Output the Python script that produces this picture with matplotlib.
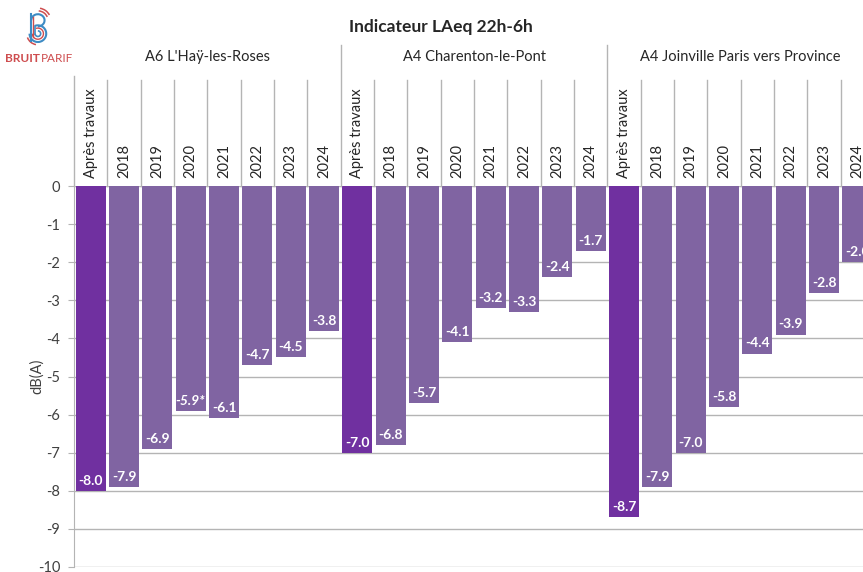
import numpy as np
import matplotlib
matplotlib.use('Agg')
import matplotlib.pyplot as plt
from matplotlib.patches import Arc
from matplotlib.transforms import blended_transform_factory

plt.rcParams['font.family'] = ['Lato', 'DejaVu Sans']
plt.rcParams['axes.unicode_minus'] = False

# data
groups = ["A6 L'Haÿ-les-Roses", "A4 Charenton-le-Pont", "A4 Joinville Paris vers Province"]
periods = ['Après travaux', '2018', '2019', '2020', '2021', '2022', '2023', '2024']
haylesroses = [-8.0, -7.9, -6.9, -5.9, -6.1, -4.7, -4.5, -3.8]
charenton = [-7.0, -6.8, -5.7, -4.1, -3.2, -3.3, -2.4, -1.7]
joinville = [-8.7, -7.9, -7.0, -5.8, -4.4, -3.9, -2.8, -2.0]
series = [haylesroses, charenton, joinville]
# 2020 value at L'Haÿ-les-Roses is flagged with an asterisk
flagged = {(0, 3)}

dark = '#7030A0'
light = '#8064A2'
grid_c = '#B4B4B4'
txt_c = '#404040'

fig = plt.figure(figsize=(8.63, 5.72), dpi=100)
W, H = 863, 572
# axes spans past the right edge: the reference is cropped there
ax = fig.add_axes([74 / W, 5 / H, 800 / W, 381 / H])

n = len(periods)
values = [v for s in series for v in s]
xs = np.arange(len(values))
colors = [dark if i % n == 0 else light for i in range(len(values))]

ax.set_xlim(-0.5, len(values) - 0.5)
ax.set_ylim(-10, 0)
ax.set_yticks(np.arange(-10, 1, 1))
ax.yaxis.grid(True, color=grid_c, lw=1)
ax.set_axisbelow(True)
ax.bar(xs, values, width=0.9, color=colors, zorder=2)

for g, s in enumerate(series):
    for k, v in enumerate(s):
        i = g * n + k
        lab = f'{v:.1f}'
        style = 'normal'
        if (g, k) in flagged:
            lab += '*'
            style = 'italic'
        ax.annotate(lab, (i, v), xytext=(0, 3), textcoords='offset points',
                    ha='center', va='bottom', color='white', fontsize=10,
                    fontweight='bold', fontstyle=style, zorder=3)

for sp in ['top', 'right', 'bottom']:
    ax.spines[sp].set_visible(False)
ax.spines['left'].set_color(grid_c)
ax.tick_params(axis='y', length=4, color=grid_c, labelcolor=txt_c,
               labelsize=10.5, pad=6)
ax.set_xticks([])
ax.text(-0.046, 0.5, 'dB(A)', rotation=90, ha='center', va='center',
        transform=ax.transAxes, fontsize=10.5, color=txt_c)

# category axis on top (two levels)
tr = blended_transform_factory(ax.transData, ax.transAxes)
for i in range(len(values)):
    ax.text(i, 1.021, periods[i % n], rotation=90, ha='center', va='bottom',
            transform=tr, fontsize=10.5, color='#262626', clip_on=False)
for i in range(len(values) + 1):
    x = i - 0.5
    top = 1.37 if i % n == 0 else 1.278
    if i == 0:
        top = 1.29
    ax.plot([x, x], [1.0, top], color=grid_c, lw=1, transform=tr,
            clip_on=False)
for g, name in enumerate(groups):
    ax.text(g * n + (n - 1) / 2, 1.339, name, ha='center', va='center',
            transform=tr, fontsize=10.5, color='#262626', clip_on=False)

fig.text(441 / W, 1 - 27 / H, 'Indicateur LAeq 22h-6h', ha='center',
         va='center', fontsize=12.5, fontweight='bold', color='#262626')

# Bruitparif logo
red = '#CE4D4F'
t1 = fig.text(5 / W, 1 - 58 / H, 'BRUIT', ha='left', va='center',
              fontsize=8.5, fontweight='bold', color=red)
fig.canvas.draw()
bb = t1.get_window_extent()
fig.text(bb.x1 / W + 0.5 / W, 1 - 58 / H, 'PARIF', ha='left', va='center',
         fontsize=8.5, color=red)
lg = fig.add_axes([22 / W, 1 - 47 / H, 34 / W, 40 / H])
lg.set_xlim(0, 30)
lg.set_ylim(0, 36)
lg.set_aspect('equal')
lg.axis('off')
blue = '#3D8BC4'
# B shape: stem and two loops, doubled stroke
lg.plot([8, 8], [5, 30], color=blue, lw=1.5)
lg.plot([10, 10], [9, 27], color=red, lw=1.0)
lg.add_patch(Arc((14, 24), 12, 11, theta1=-90, theta2=180, color=blue, lw=1.5))
lg.add_patch(Arc((14, 12), 15, 15, theta1=-180, theta2=110, color=blue, lw=1.5))
lg.add_patch(Arc((14, 12), 10, 10, theta1=-180, theta2=110, color=red, lw=1.0))
lg.add_patch(Arc((14, 12), 5, 5, theta1=-180, theta2=90, color=blue, lw=1.2))
lg.plot([11.5, 11.5], [12, 19], color=blue, lw=1.2)
# sound waves
lg.add_patch(Arc((14, 24), 18, 17, theta1=20, theta2=85, color=red, lw=1.1))
lg.add_patch(Arc((14, 24), 23, 22, theta1=25, theta2=80, color=red, lw=1.1))
lg.add_patch(Arc((14, 12), 20, 20, theta1=200, theta2=260, color=red, lw=1.1))

fig.savefig('out.png', dpi=100)
